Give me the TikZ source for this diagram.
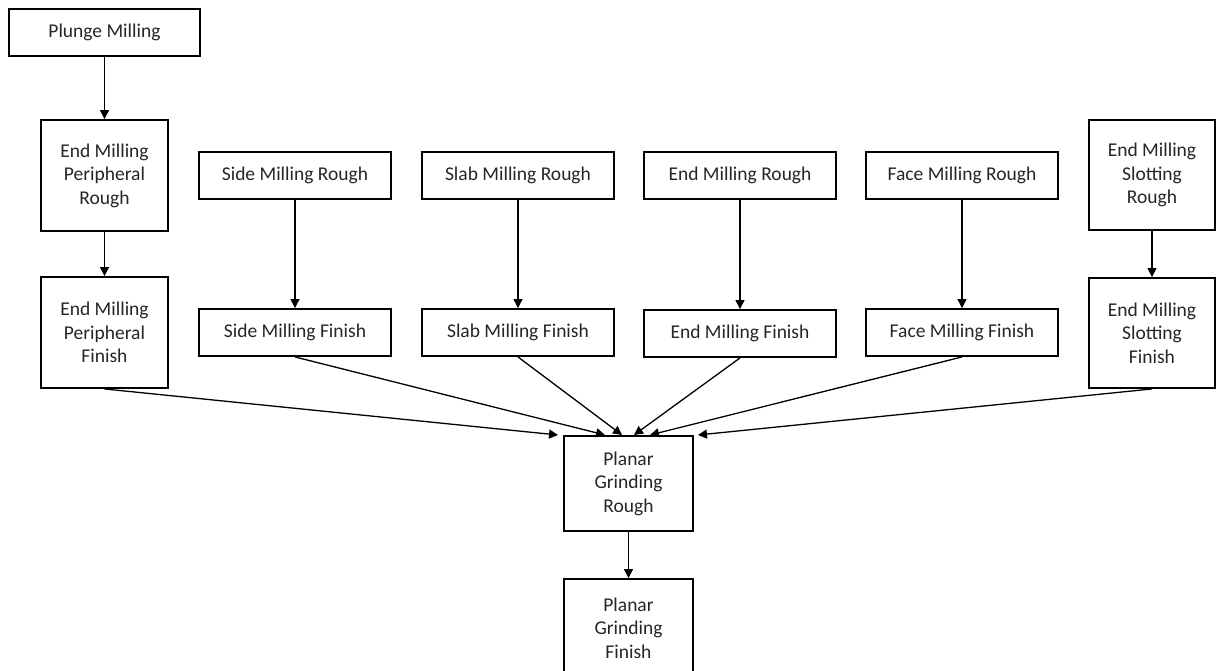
\documentclass[tikz,border=0pt]{standalone}
\usepackage{fontspec}
\setmainfont{Carlito}
\usetikzlibrary{arrows.meta}
\begin{document}
\begin{tikzpicture}[x=1pt,y=-1pt,
  box/.style={draw=black,line width=1.9pt,fill=white,align=center,
    inner sep=0pt,font=\fontsize{19.5}{23.5}\selectfont,text=black!85},
  wide/.style={box,minimum width=192pt,minimum height=47pt},
  tall/.style={box,minimum width=127pt,minimum height=111pt},
  flow/.style={draw=black,line width=1.3pt,-{Triangle[length=9pt,width=9pt]}}]
\useasboundingbox (0,0) rectangle (1216,671);
\clip (0,0) rectangle (1216,671);
% left column
\node[box,minimum width=191pt,minimum height=47pt] (plunge) at (104.5,32.5) {Plunge Milling};
\node[tall] (emprough) at (104.5,175.5) {End Milling\\Peripheral\\Rough};
\node[tall] (empfinish) at (104.5,332.5) {End Milling\\Peripheral\\Finish};
% middle columns
\node[wide] (siderough) at (295,175.5) {Side Milling Rough};
\node[wide] (sidefinish) at (295,332.5) {Side Milling Finish};
\node[wide] (slabrough) at (518,175.5) {Slab Milling Rough};
\node[wide] (slabfinish) at (518,332.5) {Slab Milling Finish};
\node[wide] (endrough) at (740,175.5) {End Milling Rough};
\node[wide] (endfinish) at (740,333.5) {End Milling Finish};
\node[wide] (facerough) at (962,175.5) {Face Milling Rough};
\node[wide] (facefinish) at (962,332.5) {Face Milling Finish};
% right column
\node[tall,minimum width=126pt,minimum height=110pt] (slotrough) at (1152,175) {End Milling\\Slotting\\Rough};
\node[tall,minimum width=126pt,minimum height=110pt] (slotfinish) at (1152,333) {End Milling\\Slotting\\Finish};
% grinding
\node[box,minimum width=129pt,minimum height=95pt] (pgrough) at (628.5,483.5) {Planar\\Grinding\\Rough};
\node[box,minimum width=129pt,minimum height=98pt] (pgfinish) at (628.5,628) {Planar\\Grinding\\Finish};
% arrow targets along the top of the rough grinding box
\coordinate (t1) at (558,435);
\coordinate (t2) at (605,435);
\coordinate (t3) at (622,435);
\coordinate (t4) at (634,435);
\coordinate (t5) at (650,435);
\coordinate (t6) at (698,435);
% connectors
\draw[flow] (plunge) -- (emprough);
\draw[flow] (emprough) -- (empfinish);
\draw[flow] (siderough) -- (sidefinish);
\draw[flow] (slabrough) -- (slabfinish);
\draw[flow] (endrough) -- (endfinish);
\draw[flow] (facerough) -- (facefinish);
\draw[flow] (slotrough) -- (slotfinish);
\draw[flow] (empfinish.south) -- (t1);
\draw[flow] (sidefinish.south) -- (t2);
\draw[flow] (slabfinish.south) -- (t3);
\draw[flow] (endfinish.south) -- (t4);
\draw[flow] (facefinish.south) -- (t5);
\draw[flow] (slotfinish.south) -- (t6);
\draw[flow] (pgrough) -- (pgfinish);
\end{tikzpicture}
\end{document}
